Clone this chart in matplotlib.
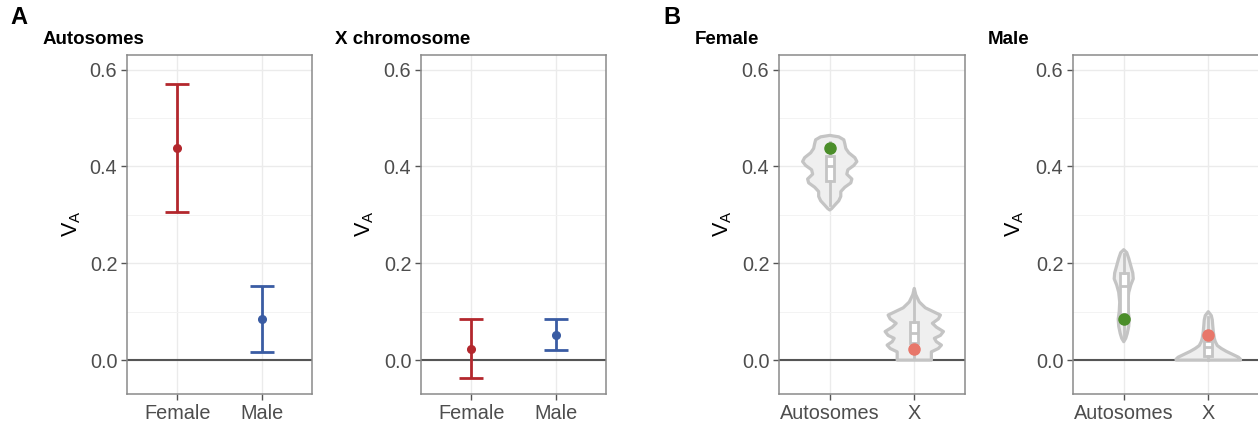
import numpy as np
import matplotlib
matplotlib.use("Agg")
import matplotlib.pyplot as plt
from matplotlib.ticker import MultipleLocator

plt.rcParams['font.family'] = ['Liberation Sans', 'DejaVu Sans']
plt.rcParams['mathtext.fontset'] = 'custom'
plt.rcParams['mathtext.rm'] = 'Liberation Sans'

# ---------------- data ----------------
sex_categories = ["Female", "Male"]
# Panel A: estimates with intervals
auto_est = [0.438, 0.085]
auto_lo = [0.305, 0.017]
auto_hi = [0.571, 0.154]
x_est = [0.023, 0.052]
x_lo = [-0.037, 0.021]
x_hi = [0.084, 0.084]

chrom_categories = ["Autosomes", "X"]
# Panel B: observed values (points)
female_obs = [0.438, 0.023]
male_obs = [0.085, 0.052]

# violin outlines: y values and half-widths (pixels)
fa_y = [0.464, 0.461, 0.455, 0.447, 0.437, 0.428, 0.418, 0.410, 0.402, 0.393,
        0.384, 0.374, 0.366, 0.357, 0.348, 0.338, 0.329, 0.320, 0.313, 0.310]
fa_w = [0, 9, 14, 15, 16, 19, 25, 27, 24, 18, 17, 22, 21, 15, 11, 11, 9, 5, 2, 0]
fx_y = [0.148, 0.135, 0.120, 0.108, 0.100, 0.093, 0.085, 0.076, 0.068, 0.059,
        0.051, 0.045, 0.038, 0.031, 0.024, 0.017, 0.008, 0.000]
fx_w = [0, 1.5, 5, 11, 19, 26, 24, 18, 22, 29, 26, 20, 22, 27, 24, 17, 17, 17]
ma_y = [0.228, 0.222, 0.210, 0.195, 0.180, 0.168, 0.155, 0.140, 0.120, 0.100,
        0.085, 0.070, 0.055, 0.045, 0.038]
ma_w = [0, 3, 5, 7, 9, 9.5, 7, 5, 4, 4.5, 5.5, 5, 3.5, 2, 0]
mx_y = [0.100, 0.092, 0.083, 0.070, 0.059, 0.045, 0.038, 0.030, 0.024, 0.018,
        0.012, 0.006, 0.002, 0.000]
mx_w = [0, 3, 4, 4.5, 5, 6, 7, 9, 13, 18, 24, 30, 32, 32]

# box stats: (whislo, q1, med, q3, whishi)
fa_box = [0.321, 0.369, 0.400, 0.421, 0.450]
fx_box = [0.003, 0.036, 0.055, 0.078, 0.135]
ma_box = [0.045, 0.095, 0.152, 0.180, 0.220]
mx_box = [0.000, 0.008, 0.028, 0.040, 0.090]

RED = "#B3272D"
BLUE = "#3A5CA3"
GREEN = "#4B8E2A"
SALMON = "#E8776A"
VGRAY = "#C4C4C4"

W, H = 1258, 422
fig = plt.figure(figsize=(W / 100, H / 100), dpi=100)

def axes_px(left, right, top=55, bottom=394):
    return fig.add_axes([left / W, (H - bottom) / H, (right - left) / W, (bottom - top) / H])

def style(ax, cats):
    ax.set_xlim(0.4, 2.6)
    ax.set_ylim(-0.07, 0.63)
    ax.set_yticks([0.0, 0.2, 0.4, 0.6])
    ax.set_yticklabels(["0.0", "0.2", "0.4", "0.6"])
    ax.yaxis.set_minor_locator(MultipleLocator(0.1))
    ax.set_xticks([1, 2])
    ax.set_xticklabels(cats)
    ax.grid(True, which='major', color="#EBEBEB", lw=1.0, zorder=0)
    ax.grid(True, which='minor', axis='y', color="#F3F3F3", lw=0.7, zorder=0)
    ax.tick_params(which='major', length=4, width=1, color="#555555",
                   labelsize=14.3, labelcolor="#4D4D4D", pad=3)
    ax.tick_params(which='minor', length=0)
    for s in ax.spines.values():
        s.set_color("#8A8A8A")
        s.set_linewidth(1.1)
    ax.set_axisbelow(True)
    ax.axhline(0, color="#555555", lw=1.5, zorder=1)

def ylabel(xpx):
    fig.text(xpx / W, 1 - 224 / H, r"$\mathregular{V_A}$", rotation=90,
             ha='center', va='center', fontsize=15.5, color="black")

def title(xpx, txt):
    fig.text(xpx / W, 1 - 40 / H, txt, ha='left', va='center',
             fontsize=13.5, fontweight='bold')

# ---------- Panel A ----------
colors = [RED, BLUE]
for (l, r, est, lo, hi, ttl, tx, yl) in [
        (127, 312, auto_est, auto_lo, auto_hi, "Autosomes", 43, 72),
        (421, 606, x_est, x_lo, x_hi, "X chromosome", 335, 365)]:
    ax = axes_px(l, r)
    style(ax, sex_categories)
    for i in range(2):
        e = np.array([[est[i] - lo[i]], [hi[i] - est[i]]])
        ax.errorbar([i + 1], [est[i]], yerr=e, fmt='o', color=colors[i],
                    ms=5.5, lw=2, capsize=8.5, capthick=2, zorder=3)
    title(tx, ttl)
    ylabel(yl)

# ---------- Panel B ----------
PX_PER_UNIT = 185 / 2.2

def violin(ax, pos, ys, ws):
    ys = np.array(ys)
    hw = np.array(ws) / PX_PER_UNIT
    xs = np.concatenate([pos - hw, (pos + hw)[::-1]])
    yy = np.concatenate([ys, ys[::-1]])
    ax.fill(xs, yy, facecolor="#EFEFEF", edgecolor=VGRAY, lw=2.3, zorder=2,
            joinstyle='round')

def box(ax, pos, st):
    stats = [dict(whislo=st[0], q1=st[1], med=st[2], q3=st[3], whishi=st[4])]
    ax.bxp(stats, positions=[pos], widths=0.09, showfliers=False, showcaps=False,
           patch_artist=True, manage_ticks=False,
           boxprops=dict(facecolor="white", edgecolor=VGRAY, lw=2),
           medianprops=dict(color=VGRAY, lw=2),
           whiskerprops=dict(color=VGRAY, lw=2), zorder=3)

for (l, r, violins, boxes, obs, ttl, tx, yl) in [
        (779, 965, [(fa_y, fa_w), (fx_y, fx_w)], [fa_box, fx_box], female_obs,
         "Female", 695, 723),
        (1073, 1259, [(ma_y, ma_w), (mx_y, mx_w)], [ma_box, mx_box], male_obs,
         "Male", 988, 1015)]:
    ax = axes_px(l, r)
    style(ax, chrom_categories)
    for i in range(2):
        violin(ax, i + 1, *violins[i])
        box(ax, i + 1, boxes[i])
    ax.plot([1], [obs[0]], 'o', color=GREEN, ms=8, zorder=5)
    ax.plot([2], [obs[1]], 'o', color=SALMON, ms=8, zorder=5)
    title(tx, ttl)
    ylabel(yl)

fig.text(10 / W, 1 - 18 / H, "A", ha='left', va='center', fontsize=17, fontweight='bold')
fig.text(663 / W, 1 - 18 / H, "B", ha='left', va='center', fontsize=17, fontweight='bold')

fig.savefig("out.png", dpi=100)
